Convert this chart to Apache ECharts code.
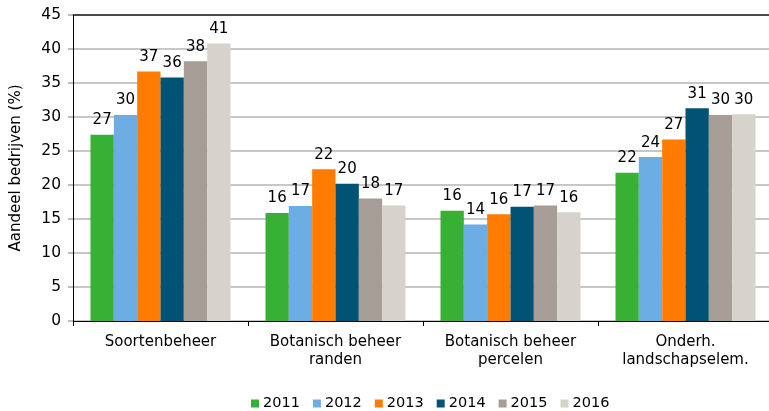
<!DOCTYPE html>
<html>
<head>
<meta charset="utf-8">
<script src="https://cdn.jsdelivr.net/npm/echarts@6/dist/echarts.min.js"></script>
<style>
    html, body { margin: 0; padding: 0; background: #fff; }
    #chart { width: 769px; height: 411px; }
</style>
</head>
<body>
<div id="chart"></div>
<script>
var categories = ['Soortenbeheer', 'Botanisch beheer\nranden', 'Botanisch beheer\npercelen', 'Onderh.\nlandschapselem.'];
var years = ['2011', '2012', '2013', '2014', '2015', '2016'];
var colors = ['#37b035', '#6caee3', '#ff7c00', '#005375', '#a59d96', '#d6d3cc'];

var v2011 = [27.4, 15.9, 16.2, 21.8];
var v2012 = [30.3, 16.9, 14.2, 24.1];
var v2013 = [36.7, 22.3, 15.7, 26.7];
var v2014 = [35.8, 20.2, 16.8, 31.3];
var v2015 = [38.2, 18.0, 17.0, 30.3];
var v2016 = [40.8, 17.0, 16.0, 30.4];
var yTicks = [0, 5, 10, 15, 20, 25, 30, 35, 40, 45];

var font = 'DejaVu Sans, Verdana, sans-serif';
var values = [v2011, v2012, v2013, v2014, v2015, v2016];

var chart = echarts.init(document.getElementById('chart'));
var series = [];
for (var i = 0; i < years.length; i++) {
    series.push({
        name: years[i],
        type: 'bar',
        data: values[i],
        xAxisIndex: 0,
        barGap: 0,
        barCategoryGap: '20%',
        itemStyle: { color: colors[i] },
        label: {
            show: true,
            position: 'top',
            distance: 7,
            color: '#000',
            fontFamily: font,
            fontSize: 15,
            formatter: function (p) { return Math.round(p.value); }
        }
    });
}

var option = {
    animation: false,
    textStyle: { fontFamily: font },
    grid: { left: 73, top: 15, width: 700, bottom: 90, containLabel: false, outerBoundsMode: 'none' },
    legend: {
        data: years,
        left: 246,
        top: 391,
        icon: 'rect',
        itemWidth: 8,
        itemHeight: 8,
        itemGap: 13,
        textStyle: { fontFamily: font, fontSize: 14.5, color: '#000', padding: [0, 0, 0, -1] }
    },
    xAxis: [{
        type: 'category',
        data: categories,
        axisLine: { lineStyle: { color: '#000', width: 1 } },
        axisTick: { show: true, length: 5, lineStyle: { color: '#000' } },
        axisLabel: { color: '#000', fontFamily: font, fontSize: 15, margin: 12, lineHeight: 18 }
    }, {
        type: 'category',
        data: categories,
        position: 'top',
        axisLine: { lineStyle: { color: '#222', width: 1.5 } },
        axisTick: { show: false },
        axisLabel: { show: false }
    }],
    yAxis: {
        type: 'value',
        min: yTicks[0],
        max: yTicks[yTicks.length - 1],
        interval: 5,
        name: 'Aandeel bedrijven (%)',
        nameLocation: 'middle',
        nameGap: 49,
        nameTextStyle: { color: '#000', fontFamily: font, fontSize: 15 },
        axisLine: { show: true, lineStyle: { color: '#000', width: 1 } },
        axisTick: { show: true, length: 5, lineStyle: { color: '#aaa', width: 1.5 } },
        axisLabel: { color: '#000', fontFamily: font, fontSize: 15.5, margin: 12 },
        splitLine: { lineStyle: { color: '#b5b5b5', width: 1.5 } }
    },
    series: series
};
chart.setOption(option);
</script>
</body>
</html>
